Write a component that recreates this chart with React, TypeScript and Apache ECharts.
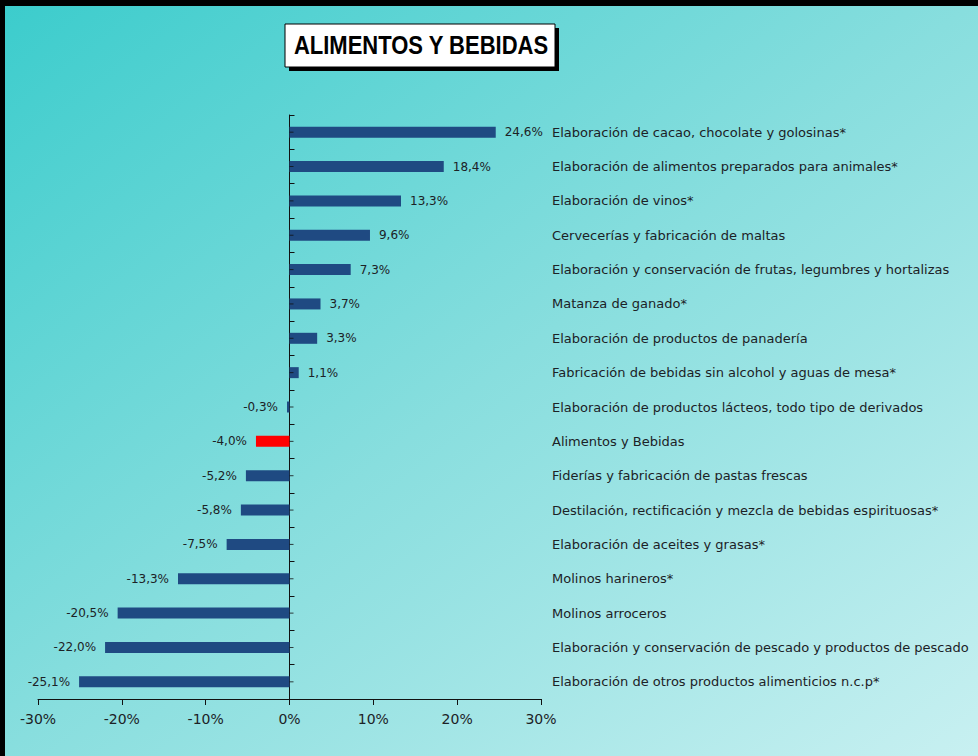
import React, { useEffect, useRef } from "react";
import * as echarts from "echarts";

const categories = [
  "Elaboración de cacao, chocolate y golosinas*",
  "Elaboración de alimentos preparados para animales*",
  "Elaboración de vinos*",
  "Cervecerías y fabricación de maltas",
  "Elaboración y conservación de frutas, legumbres y hortalizas",
  "Matanza de ganado*",
  "Elaboración de productos de panadería",
  "Fabricación de bebidas sin alcohol y aguas de mesa*",
  "Elaboración de productos lácteos, todo tipo de derivados",
  "Alimentos y Bebidas",
  "Fiderías y fabricación de pastas frescas",
  "Destilación, rectificación y mezcla de bebidas espirituosas*",
  "Elaboración de aceites y grasas*",
  "Molinos harineros*",
  "Molinos arroceros",
  "Elaboración y conservación de pescado y productos de pescado",
  "Elaboración de otros productos alimenticios n.c.p*",
];

const values = [24.6, 18.4, 13.3, 9.6, 7.3, 3.7, 3.3, 1.1, -0.3, -4.0, -5.2, -5.8, -7.5, -13.3, -20.5, -22.0, -25.1];

const highlight = "Alimentos y Bebidas";

const xTicks = { min: -30, max: 30, interval: 10 };

const title = "ALIMENTOS Y BEBIDAS";

const FONT = "'DejaVu Sans', Verdana, sans-serif";
const TEXT = "#1c2226";
const BAR = "#1f4a82";

export default function App() {
  const ref = useRef<HTMLDivElement>(null);
  useEffect(() => {
    if (!ref.current) return;
    const chart = echarts.init(ref.current, undefined, { renderer: "svg" });
    const fmt = (v: number) => v.toFixed(1).replace(".", ",") + "%";
    const data = values.map((v, i) => ({
      value: v,
      itemStyle: { color: categories[i] === highlight ? "#ff0000" : BAR },
      label: {
        show: true,
        position: v >= 0 ? "right" : "left",
        distance: 9,
        formatter: fmt(v),
        fontFamily: FONT,
        fontSize: 12,
        color: TEXT,
      },
    }));
    chart.setOption({
      animation: false,
      backgroundColor: "transparent",
      grid: { left: 38, right: 437, top: 115, bottom: 57, containLabel: false },
      xAxis: {
        type: "value",
        min: xTicks.min,
        max: xTicks.max,
        interval: xTicks.interval,
        splitLine: { show: false },
        axisLine: { show: true, lineStyle: { color: "#111", width: 1 } },
        axisTick: { show: true, length: 6, lineStyle: { color: "#111" } },
        axisLabel: {
          formatter: (v: number) => v + "%",
          fontFamily: FONT,
          fontSize: 14,
          color: TEXT,
          margin: 13,
        },
      },
      yAxis: [
        {
          type: "category",
          data: categories,
          inverse: true,
          axisLine: { show: true, onZero: true, lineStyle: { color: "#111", width: 1 } },
          axisTick: { show: true, inside: true, length: 5, lineStyle: { color: "#111" } },
          axisLabel: { show: false },
          splitLine: { show: false },
        },
        {
          type: "category",
          data: categories,
          inverse: true,
          position: "right",
          axisLine: { show: false, onZero: false },
          axisTick: { show: false },
          axisLabel: {
            show: true,
            margin: 11,
            fontFamily: FONT,
            fontSize: 13,
            color: TEXT,
          },
          splitLine: { show: false },
        },
      ],
      series: [
        {
          type: "bar",
          data,
          yAxisIndex: 0,
          barWidth: 11,
          z: 2,
        },
        {
          type: "scatter",
          yAxisIndex: 0,
          data: categories.map((c) => [0, c]),
          symbol: "rect",
          symbolSize: [4, 1],
          symbolOffset: [2, 0],
          itemStyle: { color: "#111" },
          silent: true,
          z: 3,
        },
      ],
      graphic: [
        { type: "rect", left: 0, top: 0, shape: { width: 978, height: 6 }, style: { fill: "#000" } },
        { type: "rect", left: 0, top: 0, shape: { width: 5, height: 756 }, style: { fill: "#000" } },
        { type: "rect", shape: { x: 289, y: 28, width: 270, height: 43 }, style: { fill: "#000" } },
        { type: "rect", shape: { x: 285, y: 24, width: 270, height: 43 }, style: { fill: "#fff", stroke: "#000", lineWidth: 1 } },
        {
          type: "text",
          x: 421,
          y: 46,
          scaleX: 0.88,
          originX: 0,
          originY: 0,
          style: {
            text: title,
            fontFamily: "'Liberation Sans', Arial, sans-serif",
            fontWeight: "bold",
            fontSize: 25,
            fill: "#000",
            align: "center",
            verticalAlign: "middle",
          },
        },
      ],
    });
    return () => chart.dispose();
  }, []);
  return (
    <div
      style={{
        position: "fixed",
        left: 0,
        top: 0,
        width: 978,
        height: 756,
        background: "linear-gradient(to bottom right, #3bcccc 0%, #88dede 50%, #c8f0f1 100%)",
      }}
    >
      <div ref={ref} style={{ width: 978, height: 756 }} />
    </div>
  );
}
